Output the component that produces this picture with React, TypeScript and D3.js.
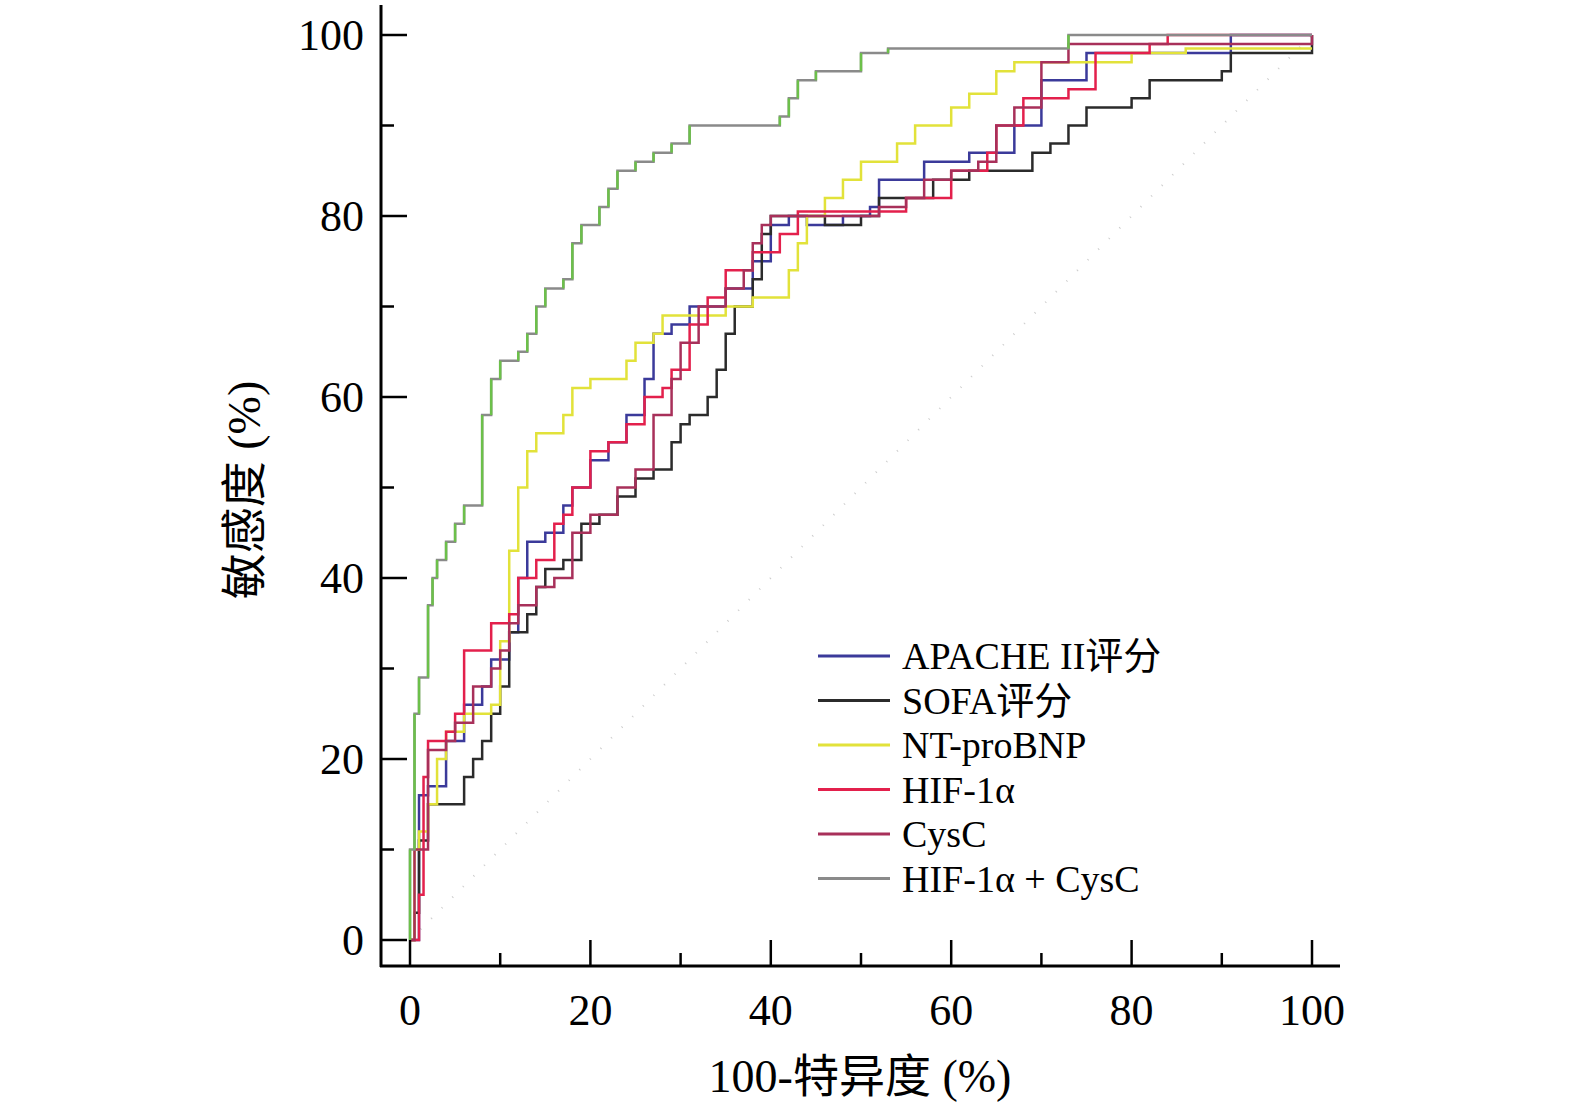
import * as d3 from 'd3'

type Pt = [number, number]

const xTicks = [0, 20, 40, 60, 80, 100]
const yTicks = [0, 20, 40, 60, 80, 100]
const seriesNames = ['APACHE II评分', 'SOFA评分', 'NT-proBNP', 'HIF-1α', 'CysC', 'HIF-1α + CysC']
const seriesColors = ['#3b3a9a', '#2b2b2b', '#e2e23a', '#e3204c', '#a8305a', '#8a8a8a']

const apache: Pt[] = [[0,0],[1,16],[2,17],[4,22],[6,26],[8,28],[9,31],[11,34],[12,40],[13,44],[15,45],[17,48],[18,50],[20,53],[22,55],[24,58],[26,62],[27,67],[29,68],[31,70],[35,72],[38,75],[40,79],[42,80],[44,79],[47,79],[48,80],[51,81],[52,84],[57,86],[60,86],[62,87],[65,87],[67,90],[70,95],[75,98],[90,98],[91,100],[100,100]]
const sofa: Pt[] = [[0,0],[0.5,3],[1,11],[2,15],[5,15],[6,18],[7,20],[8,22],[9,25],[10,28],[11,34],[13,36],[14,39],[15,41],[17,42],[19,46],[21,47],[23,49],[25,51],[27,52],[29,55],[30,57],[31,58],[33,60],[34,63],[35,67],[36,70],[38,73],[39,78],[40,80],[43,80],[46,79],[50,80],[52,82],[55,82],[58,84],[62,85],[68,85],[69,87],[71,88],[73,90],[75,92],[80,93],[82,95],[90,96],[91,98],[100,100]]
const ntpro: Pt[] = [[0,0],[0.5,10],[1,12],[2,15],[3,20],[4,23],[6,25],[9,26],[10,33],[11,43],[12,50],[13,54],[14,56],[17,58],[18,61],[20,62],[24,64],[25,66],[27,67],[28,69],[34,69],[35,70],[38,71],[41,71],[42,74],[43,77],[44,80],[46,82],[48,84],[50,86],[54,88],[56,90],[60,92],[62,93.5],[65,96],[67,97],[80,98],[86,98.5],[100,98.5]]
const hif: Pt[] = [[0,0],[1,5],[1.5,18],[2,22],[4,23],[5,25],[6,32],[9,35],[11,36],[12,40],[14,42],[16,46],[17,47],[18,50],[20,54],[22,55],[24,57],[26,60],[28,61],[29,63],[31,68],[33,71],[35,74],[38,76],[41,78],[43,80.5],[50,80.5],[55,82],[60,85],[64,87],[65,90],[68,93],[73,94],[76,98],[82,99],[84,100],[100,100]]
const cysc: Pt[] = [[0,0],[0.5,10],[2,21],[4,22],[5,24],[7,28],[9,30],[10,32],[11,35],[12,37],[14,39],[16,40],[18,45],[20,47],[23,50],[25,52],[27,58],[29,62],[30,66],[32,70],[35,72],[37,74],[38,77],[39,79],[40,80],[46,80],[52,81],[55,82],[57,84],[60,85],[63,86],[65,90],[67,92],[70,97],[73,99],[100,100]]
const combo: Pt[] = [[0,0],[0,10],[0.5,25],[1,29],[2,37],[2.5,40],[3,42],[4,44],[5,46],[6,48],[8,58],[9,62],[10,64],[12,65],[13,67],[14,70],[15,72],[17,73],[18,77],[19,79],[21,81],[22,83],[23,85],[25,86],[27,87],[29,88],[31,90],[40,90],[41,91],[42,93],[43,95],[45,96],[50,98],[53,98.5],[70,98.5],[73,100],[100,100]]

const allSeries = [apache, sofa, ntpro, hif, cysc, combo]

const W = 1575
const H = 1113
const font = '"Liberation Serif", "Times New Roman", "Noto Sans CJK SC", serif'

export default function App() {
  const x = d3.scaleLinear().domain([0, 100]).range([410, 1312])
  const y = d3.scaleLinear().domain([0, 100]).range([940, 35])
  const line = d3.line<Pt>().x((d) => x(d[0])).y((d) => y(d[1])).curve(d3.curveStepAfter)
  const minor = d3.range(0, 101, 10)

  return (
    <svg width={W} height={H} style={{ display: 'block', position: 'absolute', left: 0, top: 0, background: '#fff' }} fontFamily={font}>
      <line x1={x(0)} y1={y(0)} x2={x(100)} y2={y(100)} stroke="#ccc" strokeWidth={2} strokeDasharray="1 14" />
      {allSeries.map((s, i) => (
        <path key={i} d={line(s) ?? ''} fill="none" stroke={seriesColors[i]} strokeWidth={2.5} />
      ))}
      {combo.slice(1).map((d, i) => (
        <line key={i} x1={x(d[0])} x2={x(d[0])} y1={y(combo[i][1])} y2={y(d[1])} stroke="#6cc04a" strokeWidth={2.5} />
      ))}
      <line x1={381} y1={5} x2={381} y2={967} stroke="#000" strokeWidth={3} />
      <line x1={380} y1={966} x2={1340} y2={966} stroke="#000" strokeWidth={3} />
      {minor.map((t) => (
        <g key={t}>
          <line x1={x(t)} x2={x(t)} y1={966} y2={t % 20 === 0 ? 940 : 953} stroke="#000" strokeWidth={2.5} />
          <line x1={381} x2={t % 20 === 0 ? 407 : 394} y1={y(t)} y2={y(t)} stroke="#000" strokeWidth={2.5} />
        </g>
      ))}
      {xTicks.map((t) => (
        <text key={t} x={x(t)} y={1025} fontSize={44} textAnchor="middle">{t}</text>
      ))}
      {yTicks.map((t) => (
        <text key={t} x={364} y={y(t) + 15} fontSize={44} textAnchor="end">{t}</text>
      ))}
      <text x={860} y={1092} fontSize={46} textAnchor="middle">100-特异度 (%)</text>
      <text transform="translate(260,490) rotate(-90)" fontSize={46} textAnchor="middle">敏感度 (%)</text>
      {seriesNames.map((n, i) => (
        <g key={n} transform={`translate(818,${656 + i * 44.5})`}>
          <line x1={0} x2={72} y1={0} y2={0} stroke={seriesColors[i]} strokeWidth={3} />
          <text x={84} y={13} fontSize={38}>{n}</text>
        </g>
      ))}
    </svg>
  )
}
